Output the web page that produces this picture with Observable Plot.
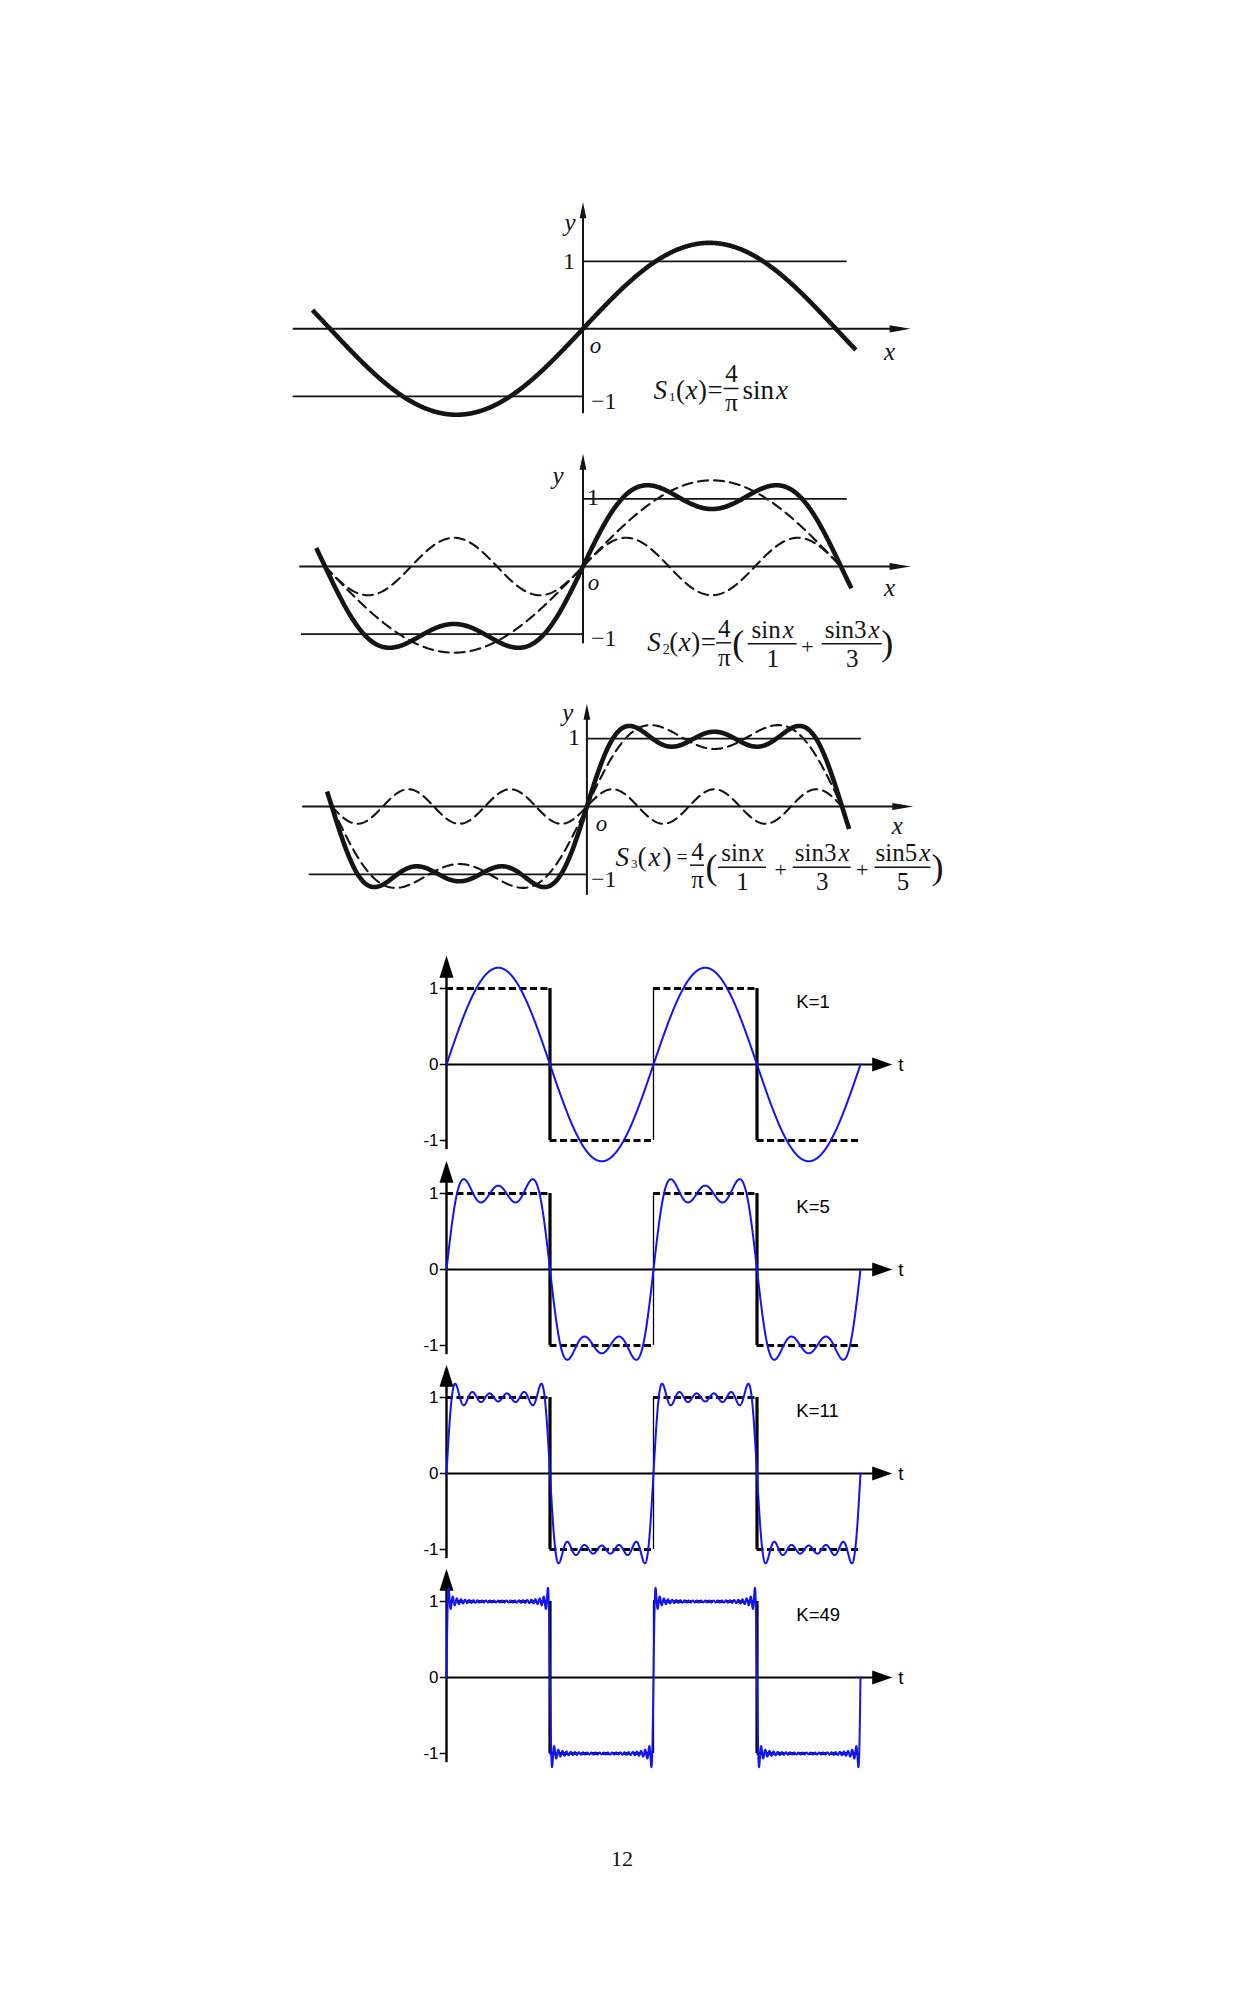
<!DOCTYPE html>
<html>
<head>
<meta charset="utf-8">
<script src="https://cdn.jsdelivr.net/npm/d3@7"></script>
<script src="https://cdn.jsdelivr.net/npm/@observablehq/plot@0.6"></script>
<style>
  html, body { margin: 0; padding: 0; background: #fff; }
  #page { position: relative; width: 1241px; height: 1989px; overflow: hidden; background: #fff; }
  #page > svg { position: absolute; left: 0; }
  #pageno { position: absolute; left: 0; width: 1244px; top: 1848px; text-align: center;
            font: 22px/22px "Liberation Serif", "Times New Roman", serif; color: #111; }
</style>
</head>
<body>
<div id="page"><div id="pageno">12</div></div>
<script>
const PI = Math.PI;

// ---- values ----
const seriesIndex = ["1", "2", "3"];                    // S1, S2, S3
const seriesTerms = [[1], [1, 3], [1, 3, 5]];           // odd harmonics n in 4/pi * sum sin(nx)/n
const dashedTerms = [[], [[1], [3]], [[1, 3], [5]]];    // dashed curves: previous sum + new harmonic
const seriesExtent = [[-3.36, 3.39], [-3.25, 3.27], [-3.2, 3.23]];
const kValues = [1, 5, 11, 49];                          // highest harmonic of the blue sums
const squareLevels = [1, -1, 1, -1];                     // square wave, one value per half period
const bottomTicks = [1, 0, -1];
const bottomTickLabels = ["1", "0", "-1"];

// ---- layout (pixels of the page) ----
const serif = "Liberation Serif, Times New Roman, serif";
const sans = "Liberation Sans, Arial, sans-serif";
const ink = "#141414";
const FS = 27;   // formula font size
const FRS = 25;  // fraction font size

const topGeo = [
  {top: 190, height: 250, ox: 582.5, ux: 80.5, oy: 328.3, uy: 67.5,
   axisX: [-3.6, 4.07], axisY: [-1.26, 1.876], lvlPos: 3.28, lvlNeg: -3.6,
   yLab: [-13, 21], oneLab: [-8, 0, "end"], oLab: [12.5, 17], xLab: [-21, 23], m1Lab: [8, 5],
   fx: 0.876, fy: -0.884},
  {top: 440, height: 250, ox: 582.5, ux: 82.1, oy: 566, uy: 67.7,
   axisX: [-3.45, 3.99], axisY: [-1.14, 1.665], lvlPos: 3.22, lvlNeg: -3.43,
   yLab: [-25, 22], oneLab: [4, -1, "start"], oLab: [10.5, 16], xLab: [-21, 21], m1Lab: [8, 4],
   fx: 0.782, fy: -1.142},
  {top: 690, height: 250, ox: 586.4, ux: 81.2, oy: 806, uy: 67.8,
   axisX: [-3.5, 4.02], axisY: [-1.31, 1.515], lvlPos: 3.38, lvlNeg: -3.42,
   yLab: [-19, 9], oneLab: [-7, -1.5, "end"], oLab: [14.5, 17], xLab: [-16, 19], m1Lab: [4, 5],
   fx: 0.352, fy: -0.895}
];

// formula pieces (pixel offsets from the formula start): runs of [text, italic], fractions centred at cx
const formulaSpecs = [
  [ {run: [["S", 1]], dx: 0, dy: 2}, {run: [[seriesIndex[0], 0]], dx: 15.5, dy: 8, size: 13},
    {run: [["(", 0], ["x", 1], [")", 0], ["=", 0]], dx: 22.5, dy: 2, gap: 0.5},
    {num: [["4", 0]], den: [["π", 0]], cx: 78, w: 15, nd: -14, dd: 15, bar: 0},
    {run: [["sin", 0], ["x", 1]], dx: 89, dy: 2, gap: 2} ],
  [ {run: [["S", 1]], dx: 0, dy: -1}, {run: [[seriesIndex[1], 0]], dx: 15.5, dy: 6, size: 14},
    {run: [["(", 0], ["x", 1], [")", 0], ["=", 0]], dx: 22, dy: -1, gap: 0.5},
    {num: [["4", 0]], den: [["π", 0]], cx: 77, w: 15, nd: -15, dd: 14, bar: -1},
    {run: [["(", 0]], dx: 85, size: 36},
    {num: [["sin", 0], ["x", 1]], den: [["1", 0]], cx: 125.5, w: 49, nd: -14, dd: 15, bar: 0},
    {run: [["+", 0]], dx: 154, dy: 3, size: 22},
    {num: [["sin3", 0], ["x", 1]], den: [["3", 0]], cx: 205, w: 60, nd: -14, dd: 15, bar: 0},
    {run: [[")", 0]], dx: 234, size: 36} ],
  [ {run: [["S", 1]], dx: 0, dy: -10}, {run: [[seriesIndex[2], 0]], dx: 15.5, dy: -3, size: 13},
    {run: [["(", 0], ["x", 1], [")", 0]], dx: 22, dy: -10, gap: 2},
    {run: [["=", 0]], dx: 61, dy: -10, size: 20},
    {num: [["4", 0]], den: [["π", 0]], cx: 82, w: 14, nd: -15, dd: 13, bar: -2},
    {run: [["(", 0]], dx: 90, size: 36},
    {num: [["sin", 0], ["x", 1]], den: [["1", 0]], cx: 127, w: 48, nd: -14, dd: 15, bar: 0},
    {run: [["+", 0]], dx: 159, dy: 3, size: 22},
    {num: [["sin3", 0], ["x", 1]], den: [["3", 0]], cx: 206.7, w: 58, nd: -14, dd: 15, bar: 0},
    {run: [["+", 0]], dx: 240.5, dy: 3, size: 22},
    {num: [["sin5", 0], ["x", 1]], den: [["5", 0]], cx: 287.5, w: 56, nd: -14, dd: 15, bar: 0},
    {run: [[")", 0]], dx: 316, size: 36} ]
];

const bottomGeo = {x0: 446, x1: 860, uy: 76, zeros: [1064, 1269.3, 1472.7, 1676.7], height: 250};

// ---- helpers ----
const canvas = document.createElement("canvas").getContext("2d");
function tw(text, size, italic) {
  canvas.font = `${italic ? "italic " : ""}${size}px "Liberation Serif"`;
  return canvas.measureText(text).width;
}
function layoutFormula(spec, size, fsize) {
  const pieces = [], bars = [];
  for (const it of spec) {
    if (it.run) {
      const s = it.size || size;
      let x = it.dx;
      for (const [t, ital] of it.run) {
        pieces.push({t, ital, dx: x, dy: it.dy || 0, size: s});
        x += tw(t, s, ital) + (it.gap || 0);
      }
    } else {
      for (const [part, dy] of [[it.num, it.nd], [it.den, it.dd]]) {
        const w = d3.sum(part, ([t, i]) => tw(t, fsize, i)) + (part.length - 1) * 2;
        let x = it.cx - w / 2;
        for (const [t, ital] of part) {
          pieces.push({t, ital, dx: x, dy, size: fsize});
          x += tw(t, fsize, ital) + 2;
        }
      }
      bars.push({a: it.cx - it.w / 2, b: it.cx + it.w / 2, dy: it.bar});
    }
  }
  return {pieces, bars};
}
const fourier = (terms, x) => 4 / PI * d3.sum(terms, n => Math.sin(n * x) / n);
const arrowUp = (L, w) => ({draw(c) { c.moveTo(0, 0); c.lineTo(w, L); c.lineTo(-w, L); c.closePath(); }});
const arrowRight = (L, w) => ({draw(c) { c.moveTo(0, 0); c.lineTo(-L, w); c.lineTo(-L, -w); c.closePath(); }});

const page = document.getElementById("page");

// ---- top: textbook partial sums S1, S2, S3 ----
topGeo.forEach((g, i) => {
  const [lo, hi] = seriesExtent[i];
  const xs = d3.range(0, 801).map(j => lo + (hi - lo) * j / 800);
  const sum = xs.map(x => ({x, y: fourier(seriesTerms[i], x)}));
  const dashed = dashedTerms[i].map(terms =>
    d3.range(0, 601).map(j => -PI + 2 * PI * j / 600).map(x => ({x, y: fourier(terms, x)})));
  const f = layoutFormula(formulaSpecs[i], FS, FRS);
  const fxp = d => g.fx + d.dx / g.ux, fyp = d => g.fy - d.dy / g.uy;
  const txt = (data, opts) => Plot.text(data, {fontFamily: serif, fill: ink, lineAnchor: "middle", ...opts});

  const chart = Plot.plot({
    width: 1241, height: g.height, margin: 0,
    x: {type: "linear", domain: [0, 1], range: [g.ox, g.ox + g.ux], axis: null},
    y: {type: "linear", domain: [0, 1], range: [g.oy - g.top, g.oy - g.top - g.uy], axis: null},
    style: {background: "transparent", overflow: "visible"},
    marks: [
      Plot.ruleY([{y: 0, a: g.axisX[0], b: g.axisX[1] - 0.1}], {y: "y", x1: "a", x2: "b", stroke: ink, strokeWidth: 2}),
      Plot.ruleY([{y: 1, a: 0, b: g.lvlPos}, {y: -1, a: g.lvlNeg, b: 0}], {y: "y", x1: "a", x2: "b", stroke: ink, strokeWidth: 1.8}),
      Plot.ruleX([{x: 0, a: g.axisY[0], b: g.axisY[1] - 0.1}], {x: "x", y1: "a", y2: "b", stroke: ink, strokeWidth: 2}),
      Plot.dot([{x: 0, y: g.axisY[1]}], {x: "x", y: "y", r: 4, symbol: arrowUp(16, 3.4), fill: ink}),
      Plot.dot([{x: g.axisX[1], y: 0}], {x: "x", y: "y", r: 4, symbol: arrowRight(21, 3.6), fill: ink}),
      ...dashed.map(pts => Plot.line(pts, {x: "x", y: "y", stroke: ink, strokeWidth: 2.1, strokeDasharray: "10,6"})),
      Plot.line(sum, {x: "x", y: "y", stroke: ink, strokeWidth: 4.6, strokeLinecap: "butt"}),
      // axis letters and level labels
      txt([{x: 0, y: g.axisY[1]}], {x: "x", y: "y", text: () => "y", fontStyle: "italic", fontSize: 25, dx: g.yLab[0], dy: g.yLab[1]}),
      txt([{x: 0, y: 1}], {x: "x", y: "y", text: () => "1", fontSize: 24, dx: g.oneLab[0], dy: g.oneLab[1], textAnchor: g.oneLab[2]}),
      txt([{x: 0, y: 0}], {x: "x", y: "y", text: () => "o", fontStyle: "italic", fontSize: 23, dx: g.oLab[0], dy: g.oLab[1]}),
      txt([{x: g.axisX[1], y: 0}], {x: "x", y: "y", text: () => "x", fontStyle: "italic", fontSize: 25, dx: g.xLab[0], dy: g.xLab[1]}),
      txt([{x: 0, y: -1}], {x: "x", y: "y", text: () => "−1", fontSize: 24, dx: g.m1Lab[0], dy: g.m1Lab[1], textAnchor: "start"}),
      // formula
      txt(f.pieces.filter(d => !d.ital), {x: fxp, y: fyp, text: "t", fontSize: d => d.size, textAnchor: "start"}),
      txt(f.pieces.filter(d => d.ital), {x: fxp, y: fyp, text: "t", fontSize: d => d.size, textAnchor: "start", fontStyle: "italic"}),
      Plot.ruleY(f.bars, {y: d => g.fy - d.dy / g.uy, x1: d => g.fx + d.a / g.ux, x2: d => g.fx + d.b / g.ux, stroke: ink, strokeWidth: 1.5})
    ]
  });
  chart.style.top = g.top + "px";
  page.append(chart);
});

// ---- bottom: square wave and its Fourier sums, K = 1, 5, 11, 49 ----
const halfSegments = squareLevels.map((v, i) => ({v, a: i / 2, b: (i + 1) / 2}));
const edges = squareLevels.slice(1).map((v, i) => ({t: (i + 1) / 2, dir: v - squareLevels[i]}));
const falling = edges.filter(d => d.dir < 0);
const rising = edges.filter(d => d.dir > 0);
const ts = d3.range(0, 3201).map(j => 2 * j / 3200);

kValues.forEach((K, i) => {
  const oy = bottomGeo.zeros[i];
  const top = oy - 125;
  const harmonics = d3.range(1, K + 1, 2);
  const wave = ts.map(t => ({t, y: fourier(harmonics, 2 * PI * t)}));
  const tipT = 2.153, tipY = 1.43;
  const chart = Plot.plot({
    width: 1241, height: bottomGeo.height, margin: 0,
    x: {type: "linear", domain: [0, 2], range: [bottomGeo.x0, bottomGeo.x1], axis: null},
    y: {type: "linear", domain: [-1, 1], range: [oy - top + bottomGeo.uy, oy - top - bottomGeo.uy], axis: null},
    style: {background: "transparent", overflow: "visible"},
    marks: [
      Plot.ruleY([{y: 0, a: 0, b: tipT - 0.05}], {y: "y", x1: "a", x2: "b", stroke: "#000", strokeWidth: 2}),
      Plot.ruleX([{x: 0, a: -1.12, b: tipY - 0.1}], {x: "x", y1: "a", y2: "b", stroke: "#000", strokeWidth: 2.4}),
      Plot.dot([{x: 0, y: tipY}], {x: "x", y: "y", r: 6, symbol: arrowUp(22, 7), fill: "#000"}),
      Plot.dot([{x: tipT, y: 0}], {x: "x", y: "y", r: 6, symbol: arrowRight(20, 7), fill: "#000"}),
      Plot.ruleY(bottomTicks, {y: d => d, x1: () => -0.03, x2: () => 0, stroke: "#000", strokeWidth: 1.5}),
      Plot.text(bottomTicks, {x: () => 0, y: d => d, text: (d, j) => bottomTickLabels[j], dx: -8, textAnchor: "end",
        fontFamily: sans, fontSize: 17, fill: "#000"}),
      Plot.ruleY(halfSegments, {y: "v", x1: "a", x2: "b", stroke: "#000", strokeWidth: 2.8, strokeDasharray: "7,3.5"}),
      Plot.ruleX(falling, {x: "t", y1: () => -1, y2: () => 1, stroke: "#000", strokeWidth: 3.2}),
      Plot.ruleX(rising, {x: "t", y1: () => -1, y2: () => 1, stroke: "#000", strokeWidth: 1.3}),
      Plot.line(wave, {x: "t", y: "y", stroke: "#1414f0", strokeWidth: 2}),
      Plot.text([K], {x: () => 1.69, y: () => 0.82, text: d => `K=${d}`, textAnchor: "start",
        fontFamily: sans, fontSize: 18.5, fill: "#000"}),
      Plot.text(["t"], {x: () => tipT, y: () => 0, text: d => d, dx: 6, textAnchor: "start",
        fontFamily: sans, fontSize: 19, fill: "#000"})
    ]
  });
  chart.style.top = top + "px";
  page.append(chart);
});
</script>
</body>
</html>
